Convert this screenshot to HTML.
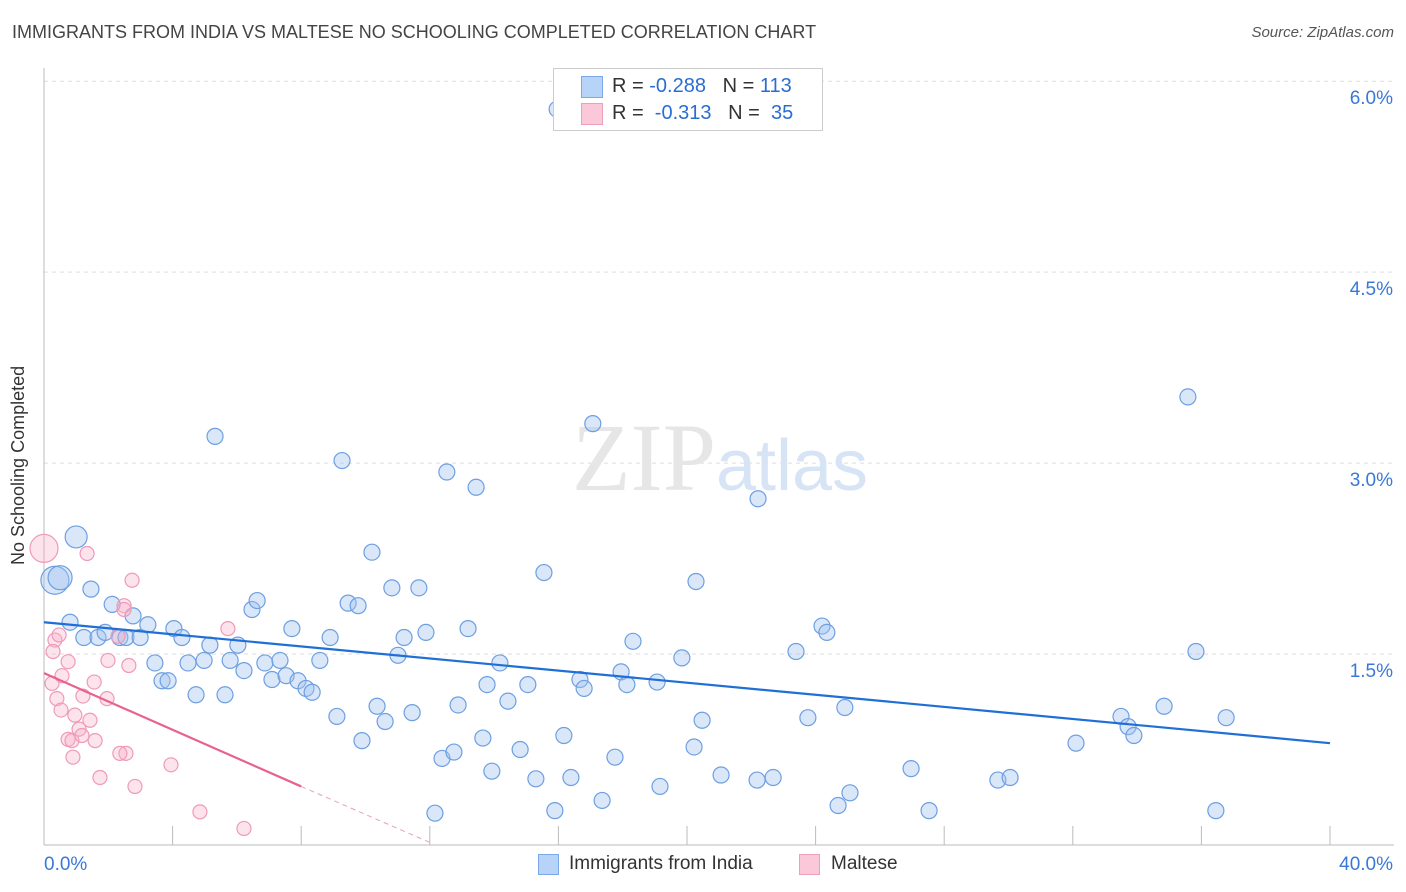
<!DOCTYPE html>
<html><head><meta charset="utf-8">
<style>
body{margin:0;background:#fff;font-family:"Liberation Sans",sans-serif;}
#wrap{position:relative;width:1406px;height:892px;overflow:hidden;}
.t{position:absolute;white-space:nowrap;}
</style></head>
<body>
<div id="wrap">
<div class="t" style="left:12px;top:22px;font-size:18px;color:#444;">IMMIGRANTS FROM INDIA VS MALTESE NO SCHOOLING COMPLETED CORRELATION CHART</div>
<div class="t" style="right:12px;top:24px;font-size:15px;color:#555;font-style:italic;">Source: ZipAtlas.com</div>
<div class="t" style="left:8px;top:565px;font-size:18px;color:#333;transform:rotate(-90deg);transform-origin:0 0;">No Schooling Completed</div>
<svg id="svg" width="1406" height="892" style="position:absolute;left:0;top:0"></svg>
<div class="t" style="left:553px;top:68px;width:268px;height:61px;border:1px solid #ccc;background:#fff;">
 <div style="position:absolute;left:27px;top:7px;width:20px;height:20px;background:#b7d3f7;border:1px solid #7aa8e8;"></div>
 <div class="t" style="left:58px;top:6px;font-size:20px;color:#333;">R = <span style="color:#2a6dd3">-0.288</span>&nbsp;&nbsp;&nbsp;N = <span style="color:#2a6dd3">113</span></div>
 <div style="position:absolute;left:27px;top:34px;width:20px;height:20px;background:#fac8d8;border:1px solid #eea0ba;"></div>
 <div class="t" style="left:58px;top:33px;font-size:20px;color:#333;">R = &nbsp;<span style="color:#2a6dd3">-0.313</span>&nbsp;&nbsp;&nbsp;N = &nbsp;<span style="color:#2a6dd3">35</span></div>
</div>
<div style="position:absolute;left:538px;top:854px;width:19px;height:19px;background:#b7d3f7;border:1px solid #7aa8e8;"></div>
<div class="t" style="left:569px;top:853px;font-size:19px;color:#333;">Immigrants from India</div>
<div style="position:absolute;left:799px;top:854px;width:19px;height:19px;background:#fac8d8;border:1px solid #eea0ba;"></div>
<div class="t" style="left:831px;top:853px;font-size:19px;color:#333;">Maltese</div>
</div>
<script>
const blueX=[15.96,5.32,9.27,12.53,13.44,17.07,22.21,35.58,1.00,0.34,0.50,1.46,2.12,0.81,1.24,1.68,1.90,2.36,2.55,2.77,2.99,3.23,3.45,3.67,3.86,4.04,4.29,4.48,4.73,4.98,5.16,5.63,5.79,6.03,6.22,6.47,6.63,6.87,7.09,7.34,7.53,7.71,7.90,8.15,8.34,8.58,8.90,9.11,9.46,9.77,9.89,10.20,10.36,10.61,10.82,11.01,11.20,11.45,11.66,11.88,12.16,12.38,12.75,12.88,13.19,13.65,13.78,13.93,14.18,14.43,14.81,15.05,15.30,15.55,15.89,16.17,16.39,16.67,16.80,17.36,17.76,17.95,18.13,18.32,19.07,19.16,19.84,20.22,20.28,20.47,21.06,22.18,22.68,23.39,23.76,24.20,24.35,24.70,24.91,25.07,26.97,27.53,29.67,30.05,32.10,33.50,33.72,33.90,34.84,35.83,36.45,36.77];
const blueY=[5.78,3.21,3.02,2.93,2.81,3.31,2.72,3.52,2.42,2.08,2.10,2.01,1.89,1.75,1.63,1.63,1.67,1.63,1.63,1.80,1.63,1.73,1.43,1.29,1.29,1.70,1.63,1.43,1.18,1.45,1.57,1.18,1.45,1.57,1.37,1.85,1.92,1.43,1.30,1.45,1.33,1.70,1.29,1.23,1.20,1.45,1.63,1.01,1.90,1.88,0.82,2.30,1.09,0.97,2.02,1.49,1.63,1.04,2.02,1.67,0.25,0.68,0.73,1.10,1.70,0.84,1.26,0.58,1.43,1.13,0.75,1.26,0.52,2.14,0.27,0.86,0.53,1.30,1.23,0.35,0.69,1.36,1.26,1.60,1.28,0.46,1.47,0.77,2.07,0.98,0.55,0.51,0.53,1.52,1.00,1.72,1.67,0.31,1.08,0.41,0.60,0.27,0.51,0.53,0.80,1.01,0.93,0.86,1.09,1.52,0.27,1.00];
const pinkX=[0,0.34,0.28,0.47,0.75,0.56,0.25,0.40,0.53,0.75,0.87,1.09,1.21,1.34,1.43,1.56,1.59,1.74,1.96,1.99,2.30,2.49,2.55,2.64,2.74,2.83,3.95,4.85,5.72,6.22,0.90,0.96,1.18,2.36,2.49];
const pinkY=[2.33,1.61,1.52,1.65,1.44,1.33,1.27,1.15,1.06,0.83,0.82,0.91,1.17,2.29,0.98,1.28,0.82,0.53,1.15,1.45,1.64,1.88,0.72,1.41,2.08,0.46,0.63,0.26,1.70,0.13,0.69,1.02,0.86,0.72,1.85];
const xTicks=[0,4,8,12,16,20,24,28,32,36,40];
const yTicks=[1.5,3.0,4.5,6.0];
const yTickLabels=["1.5%","3.0%","4.5%","6.0%"];
const blueTrend=[1.75,0.80];
const pinkTrend=[1.35,0.46,0.02];
const X=v=>44+v*(1286/40), Y=v=>845-v*127.3;
const svg=document.getElementById('svg');const NS='http://www.w3.org/2000/svg';
function mk(t,a){const e=document.createElementNS(NS,t);for(const k in a)e.setAttribute(k,a[k]);svg.appendChild(e);return e;}
yTicks.forEach((v,i)=>{
 const l=mk('line',{x1:44,x2:1394,y1:Y(v),y2:Y(v),stroke:'#ddd','stroke-dasharray':'4,4'});
 
 
 const t=mk('text',{x:1393,y:Y(v)+23,'text-anchor':'end','font-size':19,fill:'#3a78d8','font-family':'Liberation Sans'});t.textContent=yTickLabels[i];
 
 
});
const ax=mk('line',{x1:44,x2:44,y1:68,y2:845,stroke:'#bbb'});


const bx=mk('line',{x1:44,x2:1394,y1:845,y2:845,stroke:'#bbb'});


xTicks.forEach(v=>{const l=mk('line',{x1:X(v),x2:X(v),y1:826,y2:845,stroke:'#bbb'});
 
 });
[[0,'0.0%','start',44],[40,'40.0%','end',1393]].forEach(a=>{const t=mk('text',{x:a[3],y:870,'text-anchor':a[2],'font-size':19,fill:'#3a78d8','font-family':'Liberation Sans'});t.textContent=a[1];
 
 });
const wm=mk('text',{x:720,y:490,'text-anchor':'middle','font-size':96,fill:'#e6e6e6','font-family':'Liberation Serif'});wm.innerHTML='ZIP<tspan fill="#d6e4f5" font-family="Liberation Sans" font-size="72">atlas</tspan>';


blueX.forEach((x,i)=>{const r=(i==9?14:i==8?11:i==10?12:8);
 const c=mk('circle',{cx:X(x),cy:Y(blueY[i]),r:r,fill:'rgba(160,195,240,0.4)',stroke:'#6d9fe2','stroke-width':1.2});
 
 });
pinkX.forEach((x,i)=>{const r=(i==0?14:7);
 const c=mk('circle',{cx:X(x),cy:Y(pinkY[i]),r:r,fill:'rgba(248,175,200,0.35)',stroke:'#ee9ab8','stroke-width':1.2});
 
 });
const bl=mk('line',{x1:X(0),y1:Y(blueTrend[0]),x2:X(40),y2:Y(blueTrend[1]),stroke:'#1f6fd6','stroke-width':2.2});


const pl=mk('line',{x1:X(0),y1:Y(pinkTrend[0]),x2:X(8),y2:Y(pinkTrend[1]),stroke:'#e8628f','stroke-width':2.2});


const pd=mk('line',{x1:X(8),y1:Y(pinkTrend[1]),x2:X(12),y2:Y(pinkTrend[2]),stroke:'#e8a0b8','stroke-width':1,'stroke-dasharray':'5,4'});


</script>
</body></html>
